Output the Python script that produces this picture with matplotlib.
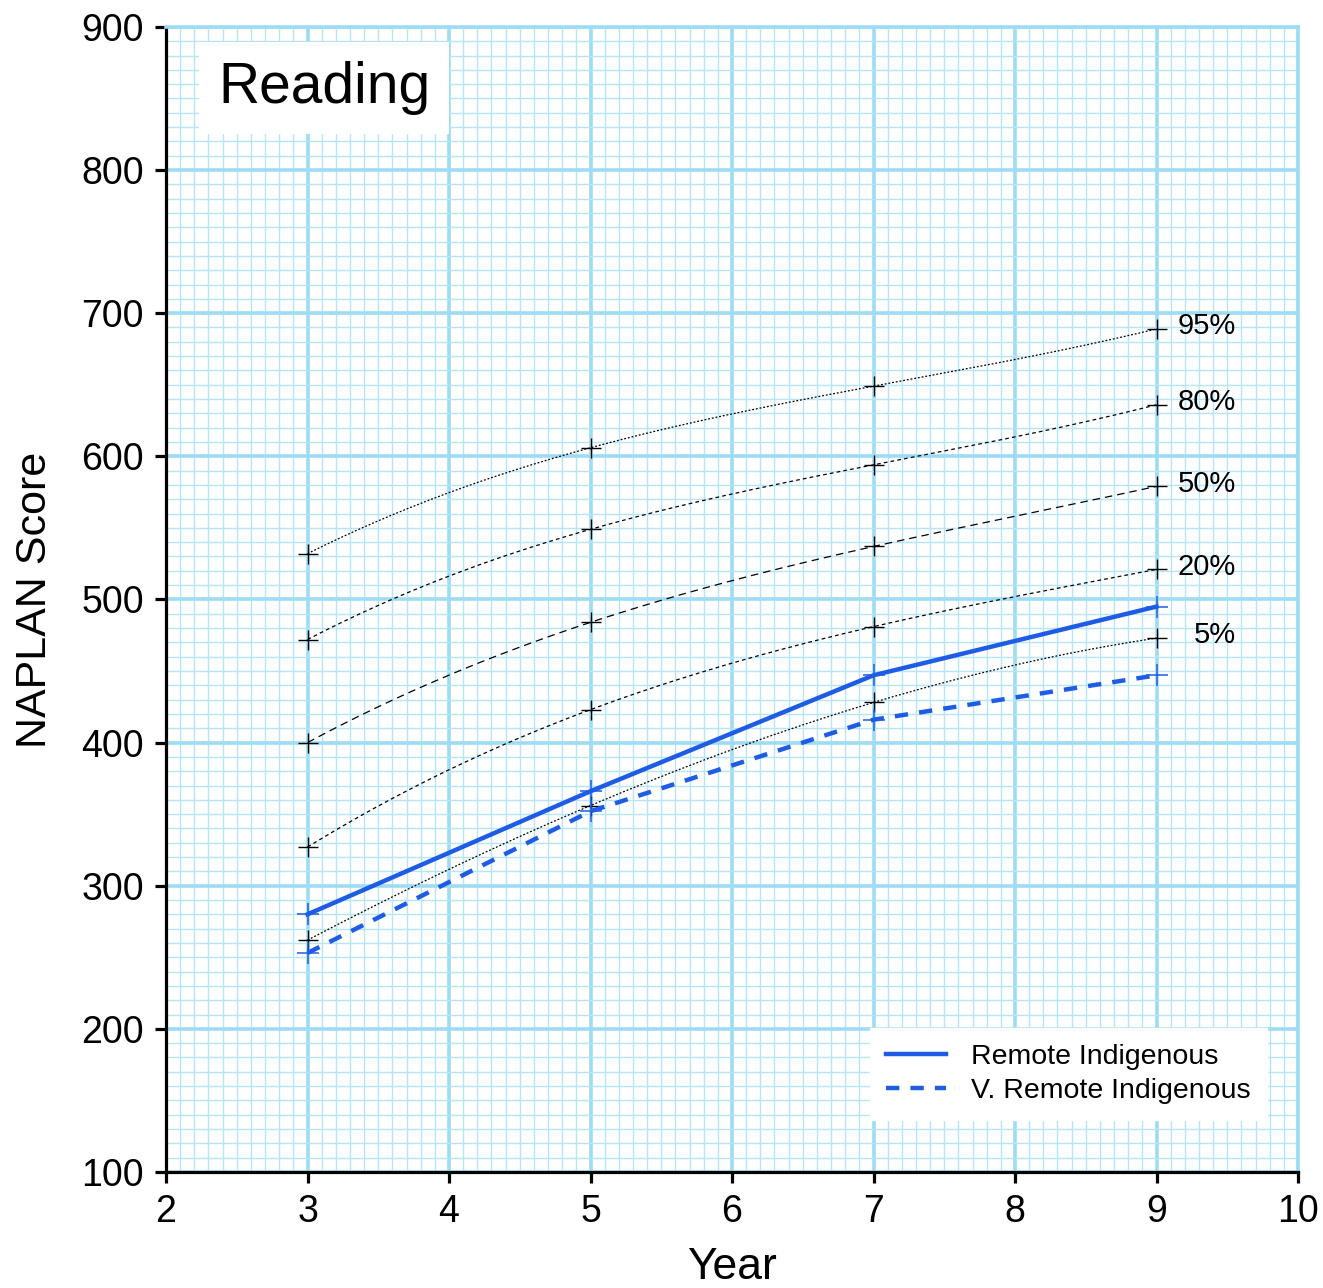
import numpy as np
import matplotlib
matplotlib.use("Agg")
from matplotlib import pyplot as plt
from matplotlib.ticker import MultipleLocator

plt.rcParams['font.family'] = ['Liberation Sans', 'DejaVu Sans']

years = [3, 5, 7, 9]

# percentile bands (NAPLAN reading scores)
pct_labels = ["95%", "80%", "50%", "20%", "5%"]
pct_values = [
    [532, 606, 649, 689],
    [472, 549, 594, 636],
    [400, 484, 537, 579],
    [327, 423, 481, 521],
    [262, 356, 428, 473],
]
pct_styles = [(0, (1.5, 1.5)), (0, (3, 2.5)), (0, (6, 4)), (0, (3, 2.5)), (0, (1.5, 1.5))]

remote = [280, 366, 447, 495]
v_remote = [253, 352, 416, 447]

BLUE = "#1f5ce6"
GRID = "#9edcf5"

fig = plt.figure(figsize=(13.23, 12.88), dpi=100)
ax = fig.add_axes([0.1255, 0.0901, 0.8556, 0.889])

ax.set_xlim(2, 10)
ax.set_ylim(100, 900)
ax.xaxis.set_major_locator(MultipleLocator(1))
ax.yaxis.set_major_locator(MultipleLocator(100))
ax.xaxis.set_minor_locator(MultipleLocator(0.1))
ax.yaxis.set_minor_locator(MultipleLocator(10))
ax.grid(which='minor', color="#b4e6f8", lw=1.0, zorder=0)
ax.grid(which='major', color=GRID, lw=2.6, zorder=0)
ax.set_axisbelow(True)

for s in ['top', 'right']:
    ax.spines[s].set_color(GRID)
    ax.spines[s].set_linewidth(2.6)
for s in ['left', 'bottom']:
    ax.spines[s].set_color('black')
    ax.spines[s].set_linewidth(2.3)

ax.tick_params(which='major', direction='out', length=8, width=2.3, labelsize=27, pad=8)
ax.tick_params(which='minor', length=0)

# smooth curves through the four percentile points
xs = np.linspace(3, 9, 200)
for lab, vals, ls in zip(pct_labels, pct_values, pct_styles):
    coef = np.polyfit(years, vals, 3)
    ax.plot(xs, np.polyval(coef, xs), color='black', lw=0.9, linestyle=ls, zorder=3)
    ax.plot(years, vals, linestyle='none', marker='+', ms=14, mew=1.0, color='black', zorder=4)
    ax.text(9.56, vals[-1] + 2, lab, ha='right', va='center', fontsize=21, zorder=5)

ax.plot(years, remote, color=BLUE, lw=3.2, marker='+', ms=16, mew=1.1,
        label="Remote Indigenous", zorder=6)
ax.plot(years, v_remote, color=BLUE, lw=3.2, linestyle=(0, (3, 2.5)), marker='+', ms=16,
        mew=1.1, label="V. Remote Indigenous", zorder=6)

leg = ax.legend(loc='lower right', bbox_to_anchor=(0.985, 0.033), fontsize=20.5,
                frameon=True, fancybox=False, handlelength=2.1, borderpad=0.55,
                labelspacing=0.3, handletextpad=0.9)
leg.get_frame().set_edgecolor('white')
leg.get_frame().set_facecolor('white')
leg.get_frame().set_alpha(1)
for h in leg.legend_handles:
    h.set_marker('')

ax.text(0.1396, 0.9467, "Reading", transform=ax.transAxes, ha='center', va='center',
        fontsize=41, zorder=7,
        bbox=dict(facecolor='white', edgecolor='none', boxstyle='square,pad=0.33'))

ax.set_xlabel("Year", fontsize=32, labelpad=12)
ax.set_ylabel("NAPLAN Score", fontsize=31, labelpad=19)

fig.savefig("out.png", dpi=100)
